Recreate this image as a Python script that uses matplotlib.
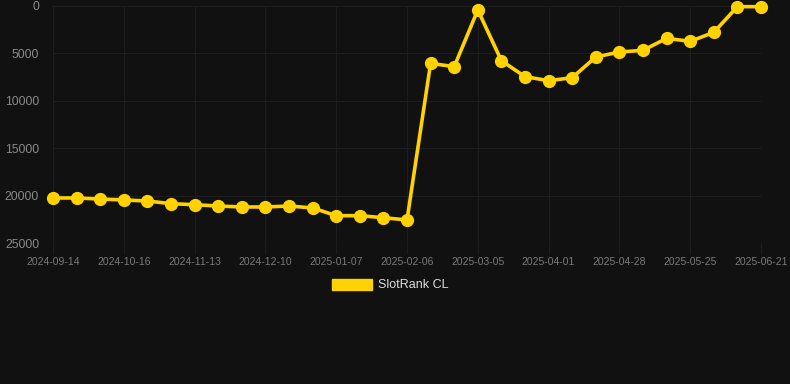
import matplotlib.pyplot as plt

dates = ["2024-09-14", "2024-09-25", "2024-10-05", "2024-10-16", "2024-10-25",
         "2024-11-04", "2024-11-13", "2024-11-22", "2024-12-01", "2024-12-10",
         "2024-12-19", "2024-12-28", "2025-01-07", "2025-01-17", "2025-01-27",
         "2025-02-06", "2025-02-15", "2025-02-24", "2025-03-05", "2025-03-14",
         "2025-03-23", "2025-04-01", "2025-04-10", "2025-04-19", "2025-04-28",
         "2025-05-07", "2025-05-16", "2025-05-25", "2025-06-03", "2025-06-12",
         "2025-06-21"]
rank = [20250, 20250, 20360, 20460, 20570, 20850, 20960, 21100, 21200, 21200,
        21100, 21300, 22120, 22120, 22330, 22570, 6050, 6400, 420, 5770,
        7450, 7880, 7560, 5380, 4850, 4680, 3410, 3730, 2780, 70, 70]
yticks = [0, 5000, 10000, 15000, 20000, 25000]

bg = "#111111"
gold = "#FFD200"

fig = plt.figure(figsize=(7.9, 3.84), dpi=100, facecolor=bg)
ax = fig.add_axes([53/790, 1 - 243/384, (761 - 53)/790, (243 - 6)/384])
ax.set_facecolor(bg)

x = list(range(len(dates)))
ax.plot(x, rank, color=gold, lw=2.6, marker="o", ms=8.5, clip_on=False,
        zorder=3, label="SlotRank CL")

ax.set_xlim(0, len(dates) - 1)
ax.set_ylim(25000, 0)
ax.set_yticks(yticks)
ax.set_yticklabels([str(v) for v in yticks])
ax.set_xticks(x[::3])
ax.set_xticklabels(dates[::3])

ax.grid(True, color="#1d1d1d", lw=0.8)
ax.set_axisbelow(True)
for s in ax.spines.values():
    s.set_visible(False)
ax.tick_params(axis="y", length=0, pad=10, labelsize=8.7, labelcolor="#8a8a8a",
               labelfontfamily="Liberation Sans")
ax.tick_params(axis="x", length=8, color="#1d1d1d", pad=2, labelsize=7.5,
               labelcolor="#7a7a7a", labelfontfamily="Liberation Sans")

leg = fig.legend(handles=[plt.Rectangle((0, 0), 1, 1, color=gold)],
                 labels=["SlotRank CL"], loc="center", bbox_to_anchor=(390/790, 1 - 285/384),
                 frameon=False, handlelength=3.2, handleheight=1.0, handletextpad=0.5,
                 prop={"family": "Liberation Sans", "size": 9})
for t in leg.get_texts():
    t.set_color("#dddddd")

fig.savefig("out.png", dpi=100, facecolor=bg)
